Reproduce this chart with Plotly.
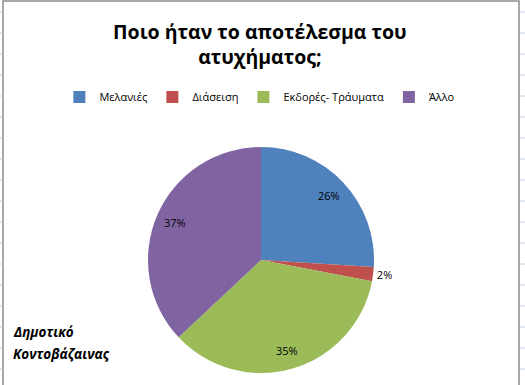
import math
import plotly.graph_objects as go

categories = ["Μελανιές", "Διάσειση", "Εκδορές- Τράυματα", "Άλλο"]
values = [26, 2, 35, 37]
colors = ["#4F81BD", "#C0504D", "#9BBB59", "#8064A2"]
inside = [True, False, True, True]
title_text = "Ποιο ήταν το αποτέλεσμα του<br>ατυχήματος;"
note_lines = ["Δημοτικό", "Κοντοβάζαινας"]

W, H = 525, 385
cx, cy, r = 261, 260, 113
label_k = 0.83

fig = go.Figure(go.Pie(
    labels=categories,
    values=values,
    marker=dict(colors=colors, line=dict(width=0)),
    sort=False,
    direction="clockwise",
    rotation=0,
    texttemplate=["" if i else "%{percent:.0%}" for i in inside],
    textposition=["none" if i else "outside" for i in inside],
    textfont=dict(family="Open Sans", size=11, color="black"),
    outsidetextfont=dict(family="Open Sans", size=11, color="black"),
    showlegend=True,
    domain=dict(x=[(cx - r) / W, (cx + r) / W], y=[(H - cy - r) / H, (H - cy + r) / H]),
    hoverinfo="skip",
))

# inside percentage labels, placed at slice mid-angles computed from the data
annotations = []
total = sum(values)
cum = 0
for v, ins in zip(values, inside):
    mid = (cum + v / 2) / total * 2 * math.pi
    cum += v
    if not ins:
        continue
    px = cx + label_k * r * math.sin(mid)
    py = cy - label_k * r * math.cos(mid)
    annotations.append(dict(text=f"{round(v / total * 100)}%", x=px / W, y=1 - py / H,
                            xref="paper", yref="paper", showarrow=False,
                            xanchor="center", yanchor="middle",
                            font=dict(family="Open Sans", size=11, color="black")))

for i, line in enumerate(note_lines):
    annotations.append(dict(text="<b><i>" + line + "</i></b>", x=11 / W, y=1 - (332 + 22 * i) / H,
                            xref="paper", yref="paper", xanchor="left", yanchor="middle",
                            showarrow=False, align="left",
                            font=dict(family="Open Sans", size=13.5, color="black")))

shapes = [dict(type="rect", xref="paper", yref="paper",
               x0=3 / W, x1=519 / W, y0=-0.01, y1=(H - 1) / H,
               line=dict(color="#8C8C8C", width=1.5))]
gy = 12
while gy < H:
    shapes.append(dict(type="line", xref="paper", yref="paper", x0=520 / W, x1=1,
                       y0=1 - gy / H, y1=1 - gy / H, line=dict(color="#C5D2E5", width=1)))
    shapes.append(dict(type="line", xref="paper", yref="paper", x0=0, x1=2.5 / W,
                       y0=1 - gy / H, y1=1 - gy / H, line=dict(color="#C5D2E5", width=1)))
    gy += 21

fig.update_layout(
    width=W, height=H,
    margin=dict(l=0, r=0, t=0, b=0),
    paper_bgcolor="white",
    title=dict(text=title_text, x=0.495, xanchor="center", y=0.899, yanchor="top",
               font=dict(family="Open Sans", size=19.5, color="black", weight="bold")),
    legend=dict(orientation="h", x=0.495, xanchor="center", y=1 - 97 / H, yanchor="middle",
                font=dict(family="Open Sans", size=11, color="black"),
                itemwidth=30, traceorder="normal"),
    annotations=annotations,
    shapes=shapes,
)

fig.write_html("out.html")
